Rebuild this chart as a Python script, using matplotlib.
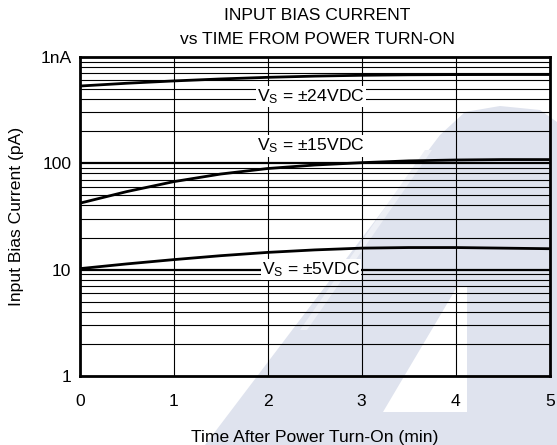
import matplotlib
matplotlib.use("Agg")
import matplotlib.pyplot as plt
from matplotlib.patches import Polygon
import numpy as np

plt.rcParams['font.family'] = ['Liberation Sans', 'DejaVu Sans']
plt.rcParams['mathtext.default'] = 'regular'

time_min = [0, 0.5, 1, 1.5, 2, 2.5, 3, 3.5, 4, 4.5, 5]
ib_24v = [530, 563, 592, 618, 640, 657, 669, 676, 679, 680, 680]
ib_15v = [42, 54, 67, 79, 89, 96, 101, 105, 107, 108, 108]
ib_5v = [10.2, 11.3, 12.4, 13.5, 14.5, 15.3, 15.9, 16.1, 16.1, 15.9, 15.7]

series_labels = ["V$_S$ = ±24VDC", "V$_S$ = ±15VDC", "V$_S$ = ±5VDC"]
label_x = [2.46, 2.46, 2.46]
label_y = [424, 145, 10]

x_ticks = [0, 1, 2, 3, 4, 5]
y_ticks = [1, 10, 100, 1000]
y_tick_labels = ["1", "10", "100", "1nA"]

FS = 12.6
W, H = 557, 445
fig = plt.figure(figsize=(W / 100, H / 100), dpi=100)
fig.patch.set_facecolor('white')

# watermark (approximate)
wm = '#dfe3ee'
def px(pts):
    return [(x / W, 1 - y / H) for x, y in pts]
fig.patches.append(Polygon(px([(205, 445), (440, 135), (465, 112), (500, 106), (540, 110), (557, 122), (557, 445)]),
                           closed=True, transform=fig.transFigure, facecolor=wm, edgecolor='none', zorder=-5))
fig.patches.append(Polygon(px([(383, 412), (457, 287), (467, 287), (467, 412)]),
                           closed=True, transform=fig.transFigure, facecolor='white', edgecolor='none', zorder=-4))
fig.patches.append(Polygon(px([(300, 330), (425, 150), (432, 150), (307, 330)]),
                           closed=True, transform=fig.transFigure, facecolor='#eef0f6', edgecolor='none', zorder=-4))

ax = fig.add_axes([79.7 / W, 1 - 376 / H, (549.7 - 79.7) / W, (376 - 56.7) / H])
ax.set_zorder(1)
ax.patch.set_visible(False)
ax.set_yscale('log')
ax.set_xlim(0, 5)
ax.set_ylim(1, 1000)

# grid
for dec in [1, 10, 100]:
    for m in range(2, 10):
        ax.axhline(dec * m, color='black', lw=0.8, zorder=1)
for v in [10, 100]:
    ax.axhline(v, color='black', lw=1.6, zorder=1)
for xv in x_ticks[1:-1]:
    ax.axvline(xv, color='black', lw=0.8, zorder=1)

for ys in [ib_24v, ib_15v, ib_5v]:
    ax.plot(time_min, ys, color='black', lw=2.0, zorder=3, solid_capstyle='butt')

for lab, lx, ly in zip(series_labels, label_x, label_y):
    ax.text(lx, ly, lab, ha='center', va='center', fontsize=FS, zorder=4,
            bbox=dict(facecolor='white', edgecolor='none', pad=1.0))

ax.set_xticks(x_ticks)
ax.set_xticklabels([str(t) for t in x_ticks])
ax.set_yticks(y_ticks)
ax.set_yticklabels(y_tick_labels)
ax.yaxis.set_minor_locator(matplotlib.ticker.NullLocator())
ax.tick_params(axis='both', length=0, labelsize=FS)
ax.tick_params(axis='x', pad=13)
ax.tick_params(axis='y', pad=6)
for s in ax.spines.values():
    s.set_linewidth(2.0)
    s.set_zorder(5)

ax.set_xlabel("Time After Power Turn-On (min)", fontsize=FS, labelpad=15)
ax.set_ylabel("Input Bias Current (pA)", fontsize=FS, labelpad=12)
fig.text(317 / W, 1 - 15 / H, "INPUT BIAS CURRENT", ha='center', va='center', fontsize=FS)
fig.text(317 / W, 1 - 39 / H, "vs TIME FROM POWER TURN-ON", ha='center', va='center', fontsize=FS)

fig.savefig("out.png", dpi=100)
